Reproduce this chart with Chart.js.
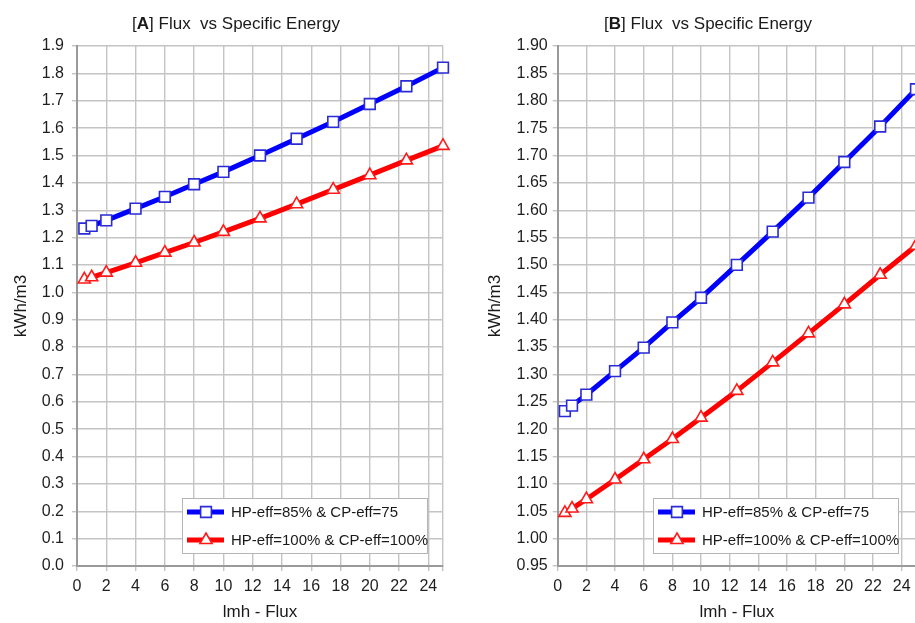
<!DOCTYPE html>
<html>
<head>
<meta charset="utf-8">
<script src="https://cdn.jsdelivr.net/npm/chart.js@4.4.1/dist/chart.umd.min.js"></script>
<style>
  html, body { margin: 0; padding: 0; background: #fff; overflow: hidden; }
  #wrap { position: relative; width: 915px; height: 623px; overflow: hidden; }
  .panel { position: absolute; top: 0; }
</style>
</head>
<body>
<div id="wrap">
  <canvas id="chartA" class="panel" style="left:0" width="457" height="623"></canvas>
  <canvas id="chartB" class="panel" style="left:457px" width="470" height="623"></canvas>
</div>
<script>
// Permeate flux (lmh) and specific energy (kWh/m3) for two pump-efficiency cases
const flux = [0.5, 1, 2, 4, 6, 8, 10, 12.5, 15, 17.5, 20, 22.5, 25];
const energyHp85Cp75 = [1.233, 1.243, 1.263, 1.306, 1.349, 1.395, 1.440, 1.500, 1.561, 1.623, 1.688, 1.753, 1.821];
const energyHp100Cp100 = [1.047, 1.055, 1.072, 1.108, 1.145, 1.182, 1.221, 1.270, 1.322, 1.375, 1.428, 1.482, 1.535];
const seriesLabels = ['HP-eff=85% & CP-eff=75', 'HP-eff=100% & CP-eff=100%'];

// Axis ticks
const xTicks = [0, 2, 4, 6, 8, 10, 12, 14, 16, 18, 20, 22, 24];
const xMax = 25;
const yTicksA = [0.0, 0.1, 0.2, 0.3, 0.4, 0.5, 0.6, 0.7, 0.8, 0.9, 1.0, 1.1, 1.2, 1.3, 1.4, 1.5, 1.6, 1.7, 1.8, 1.9];
const yTicksB = [0.95, 1.00, 1.05, 1.10, 1.15, 1.20, 1.25, 1.30, 1.35, 1.40, 1.45, 1.50, 1.55, 1.60, 1.65, 1.70, 1.75, 1.80, 1.85, 1.90];

const FONT = '"Liberation Sans", Arial, sans-serif';
const TICK_FONT = '"Liberation Sans Narrow", "Liberation Sans", Arial, sans-serif';
const GRID = '#c4c4c4';

// Title with a bold panel letter inside brackets
const panelTitle = {
  id: 'panelTitle',
  afterDraw(chart, args, o) {
    const ctx = chart.ctx;
    const parts = [
      { t: '[', b: false },
      { t: o.letter, b: true },
      { t: ']  Flux  vs Specific Energy'.replace(']  ', '] '), b: false }
    ];
    const fontOf = (b) => (b ? 'bold ' : '') + o.size + 'px ' + FONT;
    let total = 0;
    parts.forEach(p => { ctx.font = fontOf(p.b); p.w = ctx.measureText(p.t).width; total += p.w; });
    let x = o.x - total / 2;
    ctx.save();
    ctx.fillStyle = '#1a1a1a';
    ctx.textBaseline = 'middle';
    ctx.textAlign = 'left';
    parts.forEach(p => { ctx.font = fontOf(p.b); ctx.fillText(p.t, x, o.y); x += p.w; });
    ctx.restore();
  }
};

// Boxed legend sitting in the lower-right corner of the plot
const cornerLegend = {
  id: 'cornerLegend',
  afterDatasetsDraw(chart, args, o) {
    const { ctx, chartArea } = chart;
    const x = chartArea.right - o.right - o.width;
    const y = chartArea.bottom - o.bottom - o.height;
    ctx.save();
    ctx.fillStyle = '#ffffff';
    ctx.fillRect(x, y, o.width, o.height);
    ctx.strokeStyle = '#b5b5b5';
    ctx.lineWidth = 1;
    ctx.strokeRect(x + 0.5, y + 0.5, o.width, o.height);
    chart.data.datasets.forEach((ds, i) => {
      const cy = y + o.rowTop + i * o.rowGap;
      ctx.strokeStyle = ds.borderColor;
      ctx.lineWidth = ds.borderWidth;
      ctx.lineCap = 'butt';
      ctx.beginPath();
      ctx.moveTo(x + 5, cy);
      ctx.lineTo(x + 42, cy);
      ctx.stroke();
      ctx.fillStyle = ds.pointBackgroundColor;
      ctx.strokeStyle = ds.pointBorderColor;
      ctx.lineWidth = ds.pointBorderWidth;
      Chart.helpers.drawPoint(ctx, {
        pointStyle: ds.pointStyle, rotation: 0,
        radius: ds.pointRadius, borderWidth: ds.pointBorderWidth
      }, x + 24, cy);
      ctx.fillStyle = '#1a1a1a';
      ctx.font = o.fontSize + 'px ' + FONT;
      ctx.textBaseline = 'middle';
      ctx.textAlign = 'left';
      ctx.fillText(ds.label, x + 49, cy + 1);
    });
    ctx.restore();
  }
};

function buildDatasets() {
  return [
    {
      label: seriesLabels[0],
      data: flux.map((f, i) => ({ x: f, y: energyHp85Cp75[i] })),
      borderColor: '#0000ff',
      borderWidth: 5,
      pointStyle: 'rect',
      pointRadius: 7.6,
      pointBackgroundColor: '#ffffff',
      pointBorderColor: '#2a2ad6',
      pointBorderWidth: 1.6,
      tension: 0,
      clip: false
    },
    {
      label: seriesLabels[1],
      data: flux.map((f, i) => ({ x: f, y: energyHp100Cp100[i] })),
      borderColor: '#ff0000',
      borderWidth: 5,
      pointStyle: 'triangle',
      pointRadius: 7,
      pointBackgroundColor: '#ffffff',
      pointBorderColor: '#ff1a1a',
      pointBorderWidth: 1.6,
      tension: 0,
      clip: false
    }
  ];
}

function makeChart(id, cfg) {
  const yTicks = cfg.yTicks;
  return new Chart(document.getElementById(id), {
    type: 'line',
    data: { datasets: buildDatasets() },
    plugins: [panelTitle, cornerLegend],
    options: {
      responsive: false,
      animation: false,
      devicePixelRatio: 1,
      layout: { padding: { top: 46, left: cfg.padLeft, right: cfg.padRight, bottom: 0 } },
      plugins: {
        legend: { display: false },
        tooltip: { enabled: false },
        panelTitle: { letter: cfg.letter, x: cfg.titleX, y: 24, size: 17 },
        cornerLegend: { width: 245, height: 55, right: cfg.legRight, bottom: 13, rowTop: 14, rowGap: 28, fontSize: 15 }
      },
      scales: {
        x: {
          type: 'linear',
          min: 0,
          max: xMax,
          afterBuildTicks: (s) => { s.ticks = xTicks.concat([xMax]).map(v => ({ value: v })); },
          afterFit: (s) => { s.height = cfg.xHeight; },
          ticks: {
            autoSkip: false,
            maxRotation: 0,
            padding: 6,
            color: '#1e1e1e',
            font: { family: TICK_FONT, size: 16 },
            callback: (v) => xTicks.includes(v) ? String(v) : ''
          },
          grid: { color: GRID, lineWidth: 1.4, tickLength: 5, tickColor: GRID },
          border: { color: '#9a9a9a', width: 2 },
          title: {
            display: true, text: 'lmh - Flux', color: '#1a1a1a',
            font: { family: FONT, size: 17 }, padding: { top: 0, bottom: 0 }
          }
        },
        y: {
          type: 'linear',
          min: yTicks[0],
          max: yTicks[yTicks.length - 1],
          afterBuildTicks: (s) => { s.ticks = yTicks.map(v => ({ value: v })); },
          afterFit: (s) => { s.width = cfg.yWidth; },
          ticks: {
            autoSkip: false,
            padding: cfg.yTickPad,
            color: '#1e1e1e',
            font: { family: TICK_FONT, size: 16 },
            callback: (v) => Number(v).toFixed(cfg.decimals)
          },
          grid: { color: GRID, lineWidth: 1.4, tickLength: 5, tickColor: GRID },
          border: { color: '#9a9a9a', width: 2 },
          title: {
            display: true, text: 'kWh/m3', color: '#1a1a1a',
            font: { family: FONT, size: 17 }, padding: { top: cfg.yTitlePad, bottom: 0 }
          }
        }
      }
    }
  });
}

makeChart('chartA', {
  letter: 'A', titleX: 236, yTicks: yTicksA, decimals: 1,
  padLeft: 0, padRight: 14, yWidth: 77, xHeight: 57, yTickPad: 8, yTitlePad: 11, legRight: 16
});
makeChart('chartB', {
  letter: 'B', titleX: 251, yTicks: yTicksB, decimals: 2,
  padLeft: 28, padRight: 11, yWidth: 72.7, xHeight: 57, yTickPad: 5, yTitlePad: 0, legRight: 18
});
</script>
</body>
</html>
